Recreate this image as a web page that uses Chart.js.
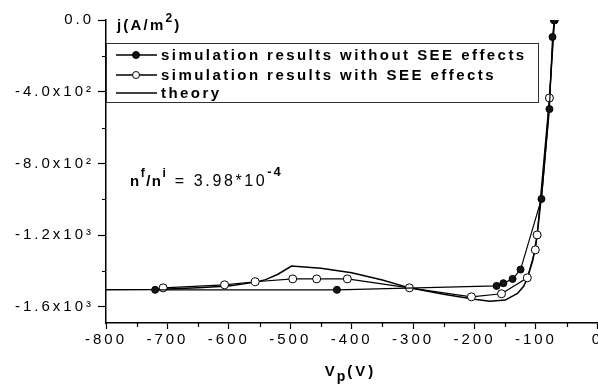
<!DOCTYPE html>
<html>
<head>
<meta charset="utf-8">
<script src="https://cdn.jsdelivr.net/npm/chart.js@4.4.0/dist/chart.umd.min.js"></script>
<style>
    html, body { margin: 0; padding: 0; background: #fff; overflow: hidden; }
</style>
</head>
<body>
<canvas id="myChart" width="605" height="387"></canvas>
<script>
// simulation without SEE effects (filled markers)
const noSeeV = [-720, -424, -164, -153, -138, -125, -91, -78, -73, -70];
const noSeeJ = [-1505, -1505, -1483, -1468, -1444, -1392, -998, -497, -95, 0];

// simulation with SEE effects (open markers)
const seeV = [-707, -607, -557, -496, -457, -407, -306, -205, -156, -114, -101, -98, -78, -70];
const seeJ = [-1494, -1477, -1460, -1444, -1444, -1444, -1494, -1544, -1527, -1438, -1282, -1199, -435, 0];

// theory curve
const theoryV = [-800, -720, -700, -650, -600, -557, -540, -520, -498, -450, -400, -350, -306, -250, -200, -175, -150, -130, -120, -114, -105, -98, -90, -80, -70];
const theoryJ = [-1505, -1503, -1500, -1493, -1483, -1462, -1448, -1418, -1372, -1385, -1410, -1450, -1494, -1530, -1558, -1568, -1562, -1525, -1485, -1440, -1340, -1200, -950, -550, 0];

const xTicks = [-800, -700, -600, -500, -400, -300, -200, -100, 0];
const xMinor = [-750, -650, -550, -450, -350, -250, -150, -50];
const yTicks = [0, -400, -800, -1200, -1600];
const yTickLabels = ['0.0', '-4.0x10\u00B2', '-8.0x10\u00B2', '-1.2x10\u00B3', '-1.6x10\u00B3'];
const yMinor = [-200, -600, -1000, -1400];

const legendLabels = [
    'simulation results without SEE effects',
    'simulation results with SEE effects',
    'theory'
];

const FONT = '"Liberation Sans", Arial, sans-serif';

function toPoints(xs, ys) {
    return xs.map((x, i) => ({ x: x, y: ys[i] }));
}

// draw text pieces one after another (used for super/subscripts)
function drawRuns(ctx, x, y, runs) {
    runs.forEach(run => {
        ctx.font = run.font;
        ctx.letterSpacing = (run.spacing || 0) + 'px';
        ctx.fillText(run.text, x, y + (run.dy || 0));
        x += ctx.measureText(run.text).width;
    });
}

const spacingPlugin = {
    id: 'spacing',
    beforeUpdate(chart) { chart.ctx.letterSpacing = '3px'; },
    beforeDraw(chart) { chart.ctx.letterSpacing = '3px'; }
};

const extrasPlugin = {
    id: 'extras',
    afterDraw(chart) {
        const ctx = chart.ctx;
        const xs = chart.scales.x;
        const ys = chart.scales.y;
        const area = chart.chartArea;
        ctx.save();
        ctx.strokeStyle = '#000';
        ctx.fillStyle = '#000';
        ctx.lineWidth = 1.2;

        // minor ticks
        ctx.beginPath();
        xMinor.forEach(v => {
            const px = Math.round(xs.getPixelForValue(v)) + 0.5;
            ctx.moveTo(px, area.bottom);
            ctx.lineTo(px, area.bottom + 4);
        });
        yMinor.forEach(v => {
            const py = Math.round(ys.getPixelForValue(v)) + 0.5;
            ctx.moveTo(area.left, py);
            ctx.lineTo(area.left - 4, py);
        });
        ctx.stroke();

        const B = 'bold 15px ' + FONT;
        const R = '15px ' + FONT;
        const S = 'bold 12px ' + FONT;
        ctx.textBaseline = 'alphabetic';
        ctx.textAlign = 'left';

        // y axis title
        drawRuns(ctx, area.left + 11, area.top + 10, [
            { text: 'j(A/m', font: B, spacing: 2.2 },
            { text: '2', font: S, spacing: 2, dy: -8 },
            { text: ')', font: B, spacing: 2 }
        ]);

        // x axis title
        const cx = (area.left + area.right) / 2;
        drawRuns(ctx, cx - 27, 376, [
            { text: 'V', font: B, spacing: 2 },
            { text: 'p', font: 'bold 14px ' + FONT, spacing: 2, dy: 5 },
            { text: '(V)', font: B, spacing: 3 }
        ]);

        // density ratio note
        drawRuns(ctx, 130, 186, [
            { text: 'n', font: B, spacing: 1.5 },
            { text: 'f', font: S, spacing: 1.5, dy: -9 },
            { text: '/n', font: B, spacing: 1.5 },
            { text: 'i', font: S, spacing: 2, dy: -9 },
            { text: ' = 3.98*10', font: '16px ' + FONT, spacing: 2.6 },
            { text: '-4', font: 'bold 13px ' + FONT, spacing: 2, dy: -10 }
        ]);

        // legend box
        ctx.lineWidth = 1;
        ctx.strokeStyle = '#333';
        ctx.fillStyle = '#fff';
        ctx.fillRect(area.left, 43, 432, 59);
        ctx.strokeRect(area.left + 0.5, 43.5, 432, 59);
        const rows = [55, 75, 93];
        rows.forEach((ry, i) => {
            ctx.strokeStyle = '#000';
            ctx.lineWidth = 1.3;
            ctx.beginPath();
            ctx.moveTo(116, ry);
            ctx.lineTo(157, ry);
            ctx.stroke();
            if (i < 2) {
                ctx.beginPath();
                ctx.arc(136, ry, 3.5, 0, Math.PI * 2);
                ctx.fillStyle = i === 0 ? '#111' : '#fff';
                ctx.fill();
                ctx.lineWidth = 1;
                ctx.stroke();
            }
            ctx.fillStyle = '#000';
            ctx.textBaseline = 'middle';
            ctx.font = B;
            ctx.letterSpacing = '2.45px';
            ctx.fillText(legendLabels[i], 161, ry + 1);
        });
        ctx.restore();
    }
};

window.onload = function () {
    const ctx = document.getElementById('myChart').getContext('2d');

    const data = {
        datasets: [{
            label: legendLabels[2],
            data: toPoints(theoryV, theoryJ),
            showLine: true,
            borderColor: '#000',
            borderWidth: 1.5,
            pointRadius: 0,
            order: 3
        }, {
            label: legendLabels[1],
            data: toPoints(seeV, seeJ),
            showLine: true,
            borderColor: '#000',
            borderWidth: 1.2,
            pointRadius: 4,
            pointBackgroundColor: '#fff',
            pointBorderColor: '#000',
            pointBorderWidth: 1,
            clip: { left: false, top: 0, right: false, bottom: false },
            order: 2
        }, {
            label: legendLabels[0],
            data: toPoints(noSeeV, noSeeJ),
            showLine: true,
            borderColor: '#000',
            borderWidth: 1.2,
            pointRadius: 3.5,
            pointBackgroundColor: '#151515',
            pointBorderColor: '#000',
            pointBorderWidth: 1,
            clip: { left: false, top: 0, right: false, bottom: false },
            order: 1
        }]
    };

    const config = {
        type: 'scatter',
        data,
        options: {
            responsive: false,
            animation: false,
            layout: { padding: { top: 20, right: 0, bottom: 0, left: 0 } },
            plugins: {
                legend: { display: false },
                tooltip: { enabled: false }
            },
            scales: {
                x: {
                    type: 'linear',
                    min: -800,
                    max: 0,
                    afterBuildTicks: s => { s.ticks = xTicks.map(v => ({ value: v })); },
                    afterFit: s => { s.height = 64; },
                    border: { color: '#000', width: 1.5 },
                    grid: { drawOnChartArea: false, tickLength: 6, tickColor: '#000', tickWidth: 1.2 },
                    ticks: {
                        color: '#000',
                        font: { family: FONT, size: 15 },
                        padding: 2,
                        maxRotation: 0,
                        autoSkip: false
                    }
                },
                y: {
                    type: 'linear',
                    min: -1690,
                    max: 0,
                    afterBuildTicks: s => { s.ticks = yTicks.map(v => ({ value: v })); },
                    afterFit: s => { s.width = 106; s.paddingTop = 0; s.paddingBottom = 0; },
                    border: { color: '#000', width: 1.5 },
                    grid: { drawOnChartArea: false, tickLength: 8, tickColor: '#000', tickWidth: 1.2 },
                    ticks: {
                        color: '#000',
                        font: { family: FONT, size: 15 },
                        padding: 4,
                        callback: (value) => {
                            const i = yTicks.indexOf(value);
                            return i >= 0 ? yTickLabels[i] : '';
                        }
                    }
                }
            }
        },
        plugins: [spacingPlugin, extrasPlugin]
    };

    new Chart(ctx, config);
};
</script>
</body>
</html>
